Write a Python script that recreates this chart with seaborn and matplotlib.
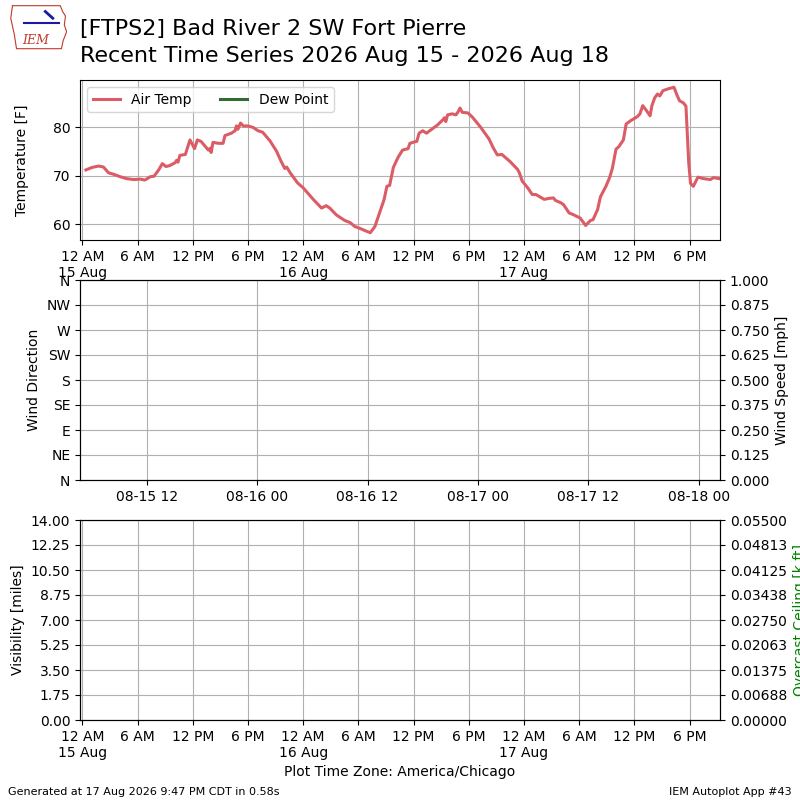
"""
[FTPS2] Bad River 2 SW Fort Pierre - recent time series (IEM autoplot #43 style)
"""

import pandas as pd
import numpy as np
import matplotlib
matplotlib.use('Agg')
import matplotlib.pyplot as plt
import matplotlib.dates as mdates
from matplotlib.ticker import FuncFormatter, FormatStrFormatter
import seaborn as sns

plt.rcParams['font.family'] = ['DejaVu Sans']

# 관측 시각 (2026-08-15 00:00 CDT 기준 경과 시간)
hours = [0.39, 1.04, 1.77, 2.3, 2.85, 3.4, 4.1, 4.8, 5.6, 6.3, 6.8, 7.4, 7.8,
         8.3, 8.7, 9.1, 9.5, 10.1, 10.25, 10.4, 10.6, 11.2, 11.7, 12.2, 12.5,
         12.9, 13.3, 13.7, 13.9, 14.0, 14.2, 14.8, 15.3, 15.5, 16.2, 16.6,
         16.75, 16.9, 17.2, 17.5, 18.0, 18.55, 19.1, 19.6, 20.4, 21.1, 21.6,
         22.0, 22.2, 22.7, 23.4, 24.0, 25.1, 26.0, 26.5, 26.9, 27.6, 28.5,
         29.1, 29.6, 30.3, 30.9, 31.3, 31.8, 32.3, 32.8, 33.1, 33.4, 33.8,
         34.3, 34.8, 35.4, 35.6, 36.1, 36.35, 36.6, 37.0, 37.4, 38.1, 38.6,
         39.2, 39.35, 39.5, 39.7, 40.2, 40.6, 40.8, 41.05, 41.3, 41.9, 42.4,
         43.3, 44.2, 44.65, 45.1, 45.6, 46.5, 47.3, 47.5, 47.8, 48.4, 48.9,
         49.3, 50.2, 50.7, 51.2, 51.4, 52.0, 52.3, 52.9, 53.4, 54.1, 54.7,
         55.2, 55.5, 56.0, 56.3, 56.9, 57.3, 57.6, 58.0, 58.3, 58.8, 59.1,
         59.6, 60.3, 60.6, 60.9, 61.3, 61.7, 61.9, 62.2, 62.5, 62.75, 63.1,
         63.7, 64.3, 64.6, 64.9, 65.3, 65.6, 65.9, 66.1, 66.4, 66.9, 67.5,
         68.25, 68.6, 69.2]

# 기온 [F]
air_temp = [71.2, 71.7, 72.0, 71.8, 70.6, 70.3, 69.8, 69.4, 69.2, 69.3, 69.1,
            69.8, 69.9, 71.2, 72.5, 71.9, 72.1, 72.7, 73.2, 72.8, 74.2, 74.4,
            77.4, 75.6, 77.4, 77.1, 76.2, 75.3, 75.7, 74.8, 76.9, 76.7, 76.7,
            78.3, 78.8, 79.3, 80.3, 79.6, 80.9, 80.3, 80.3, 80.0, 79.3, 79.0,
            77.2, 75.1, 73.0, 71.5, 71.8, 70.3, 68.5, 67.5, 65.1, 63.3, 63.8,
            63.3, 61.9, 60.75, 60.3, 59.5, 59.0, 58.5, 58.2, 59.5, 62.3, 65.1,
            67.8, 68.0, 71.7, 73.75, 75.3, 75.6, 76.7, 77.0, 77.1, 78.8, 79.3,
            78.8, 79.8, 80.5, 81.6, 82.0, 81.2, 82.6, 82.8, 82.6, 83.1, 84.0,
            83.1, 83.0, 82.1, 80.0, 77.6, 75.8, 74.3, 74.4, 72.9, 71.3, 70.6,
            68.9, 67.5, 66.1, 66.1, 65.1, 65.3, 65.4, 64.9, 64.4, 64.0, 62.3,
            61.9, 61.25, 59.7, 60.7, 60.9, 63.0, 65.6, 67.8, 69.6, 71.5, 75.5,
            76.0, 77.4, 80.7, 81.4, 82.2, 82.8, 84.5, 83.5, 82.4, 84.5, 86.1,
            86.9, 86.5, 87.6, 88.0, 88.3, 86.8, 85.5, 85.1, 84.4, 72.7, 68.4,
            67.8, 69.7, 69.4, 69.2, 69.6, 69.4]

WIND_DIR_LABELS = ['N', 'NE', 'E', 'SE', 'S', 'SW', 'W', 'NW', 'N']

TEMP_COLOR = '#dc5c66'
DEWP_COLOR = '#336b33'

BASE = pd.Timestamp('2026-08-15 00:00')
XMIN = BASE - pd.Timedelta(minutes=15)
XMAX = BASE + pd.Timedelta(hours=69.3)
UTC_SHIFT = pd.Timedelta(hours=5)


def ampm_formatter(x, pos=None):
    """12 AM / 6 AM ... 형식, 자정에는 날짜 추가"""
    dt = mdates.num2date(x).replace(tzinfo=None)
    hr = dt.hour % 12
    if hr == 0:
        hr = 12
    label = f"{hr} {'AM' if dt.hour < 12 else 'PM'}"
    if dt.hour == 0:
        label += "\n" + dt.strftime('%-d %b')
    return label


def setup_time_axis(ax):
    ax.xaxis.set_major_locator(mdates.HourLocator(byhour=[0, 6, 12, 18]))
    ax.xaxis.set_major_formatter(FuncFormatter(ampm_formatter))
    ax.set_xlim(XMIN, XMAX)
    ax.grid(True)


def main():
    df = pd.DataFrame({
        'valid': BASE + pd.to_timedelta(hours, unit='h'),
        'tmpf': air_temp,
    })

    fig = plt.figure(figsize=(8, 8), dpi=100)

    # 제목
    fig.text(0.1, 0.9635, '[FTPS2] Bad River 2 SW Fort Pierre', fontsize=16, va='center')
    fig.text(0.1, 0.9300, 'Recent Time Series 2026 Aug 15 - 2026 Aug 18', fontsize=16, va='center')

    # IEM 로고 (간단한 재현)
    lax = fig.add_axes([0.012, 0.938, 0.072, 0.056])
    lax.set_axis_off()
    lax.set_xlim(0, 1)
    lax.set_ylim(0, 1)
    outline_x = [0.05, 0.88, 0.92, 0.97, 0.95, 0.99, 0.93, 0.90, 0.12, 0.08, 0.02, 0.05]
    outline_y = [0.98, 0.98, 0.85, 0.75, 0.55, 0.40, 0.20, 0.02, 0.02, 0.35, 0.70, 0.98]
    lax.plot(outline_x, outline_y, color='#c0392b', lw=0.8)
    lax.plot([0.25, 0.85], [0.6, 0.6], color='#1a1aa0', lw=1.5)
    lax.plot([0.62, 0.75], [0.85, 0.70], color='#1a1aa0', lw=2.0)
    lax.text(0.45, 0.05, 'IEM', color='#c0392b', fontsize=9, ha='center',
             va='bottom', style='italic', family='serif')

    # 1. 기온
    ax1 = fig.add_axes([0.1, 0.7, 0.8, 0.2])
    sns.lineplot(data=df, x='valid', y='tmpf', ax=ax1, color=TEMP_COLOR,
                 linewidth=2.2, label='Air Temp')
    ax1.plot([], [], color=DEWP_COLOR, linewidth=2.2, label='Dew Point')
    setup_time_axis(ax1)
    ax1.set_xlabel('')
    ax1.set_ylabel('Temperature [F]', labelpad=17)
    ax1.legend(loc='upper left', ncol=2)

    # 2. 풍향 / 풍속 (자료 없음, UTC 축)
    ax2 = fig.add_axes([0.1, 0.4, 0.8, 0.25])
    ax2.set_xlim(XMIN + UTC_SHIFT, XMAX + UTC_SHIFT)
    ax2.xaxis.set_major_locator(mdates.HourLocator(byhour=[0, 12]))
    ax2.xaxis.set_major_formatter(mdates.DateFormatter('%m-%d %H'))
    ax2.set_ylim(0, 360)
    ax2.set_yticks(np.arange(0, 361, 45))
    ax2.set_yticklabels(WIND_DIR_LABELS)
    ax2.set_ylabel('Wind Direction')
    ax2.grid(True)
    ax2b = ax2.twinx()
    ax2b.set_ylim(0, 1)
    ax2b.set_yticks(np.linspace(0, 1, 9))
    ax2b.yaxis.set_major_formatter(FormatStrFormatter('%.3f'))
    ax2b.set_ylabel('Wind Speed [mph]')

    # 3. 시정 / 운고
    ax3 = fig.add_axes([0.1, 0.1, 0.8, 0.25])
    setup_time_axis(ax3)
    ax3.set_ylim(0, 14)
    ax3.set_yticks(np.linspace(0, 14, 9))
    ax3.yaxis.set_major_formatter(FormatStrFormatter('%.2f'))
    ax3.set_ylabel('Visibility [miles]')
    ax3.set_xlabel('Plot Time Zone: America/Chicago')
    ax3b = ax3.twinx()
    ax3b.set_ylim(0, 0.055)
    ax3b.set_yticks(np.linspace(0, 0.055, 9))
    ax3b.yaxis.set_major_formatter(FormatStrFormatter('%.5f'))
    ax3b.set_ylabel('Overcast Ceiling [k ft]', color='g')

    # 하단 정보
    fig.text(0.01, 0.006, 'Generated at 17 Aug 2026 9:47 PM CDT in 0.58s', fontsize=8)
    fig.text(0.99, 0.006, 'IEM Autoplot App #43', fontsize=8, ha='right')

    fig.savefig('out.png', dpi=100)
    plt.close(fig)


if __name__ == "__main__":
    main()
